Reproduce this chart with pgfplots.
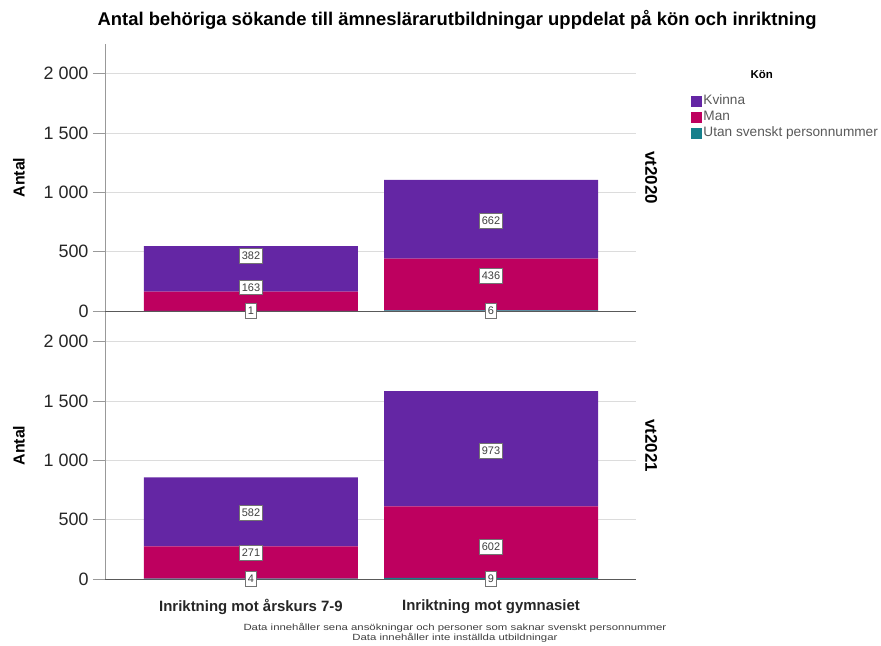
\documentclass[border=0pt]{standalone}
\usepackage{fontspec}
\setmainfont{Liberation Sans}
\usepackage{pgfplots}
\usepackage{pgfplotstable}
\pgfplotsset{compat=1.18}

\definecolor{kvinna}{RGB}{100,38,164}
\definecolor{man}{RGB}{190,0,95}
\definecolor{utan}{RGB}{22,128,140}
\definecolor{gridc}{RGB}{220,220,220}

% bars: x 0 = arskurs 7-9, 1 = gymnasiet
\pgfplotstableread{
x utan man kvinna
0 1 163 382
1 6 436 662
}\vtA
\pgfplotstableread{
x utan man kvinna
0 4 271 582
1 9 602 973
}\vtB
% label boxes, positions
\pgfplotstableread{
x y lab
0 0 1
0 200 163
0 463 382
1 0 6
1 300 436
1 760 662
}\labA
\pgfplotstableread{
x y lab
0 0 4
0 220 271
0 556 582
1 0 9
1 270 602
1 1079 973
}\labB

\pgfplotsset{
  frame/.style={
    scale only axis, width=531bp, height=267bp, anchor=south west,
    xmin=-0.608, xmax=1.604, ymin=0, ymax=2250, clip=false,
  },
  panel/.style={frame,
    ybar stacked, bar width=214bp,
    axis x line*=bottom, axis y line*=left,
    axis line style={-},
    x axis line style={draw=black!65, line width=0.8bp},
    y axis line style={draw=black!40, line width=0.8bp},
    ytick={0,500,1000,1500,2000},
    ymajorgrids, grid style={gridc, line width=0.8bp},
    tick align=outside, major tick length=12bp,
    ytick style={draw=black!40, line width=0.8bp},
    xtick style={draw=none},
    yticklabel style={font=\fontsize{18}{18}\selectfont, text=black!85, xshift=-1bp},
    /pgf/number format/1000 sep={\ },
    /pgf/number format/assume math mode=true,
    ylabel={Antal},
    ylabel style={font=\bfseries\fontsize{16}{16}\selectfont, at={(axis description cs:-0.162,0.5)}, anchor=center},
    legend image code/.code={\fill[#1] (0bp,-5.5bp) rectangle (11bp,5.5bp);},
  },
  labs/.style={only marks, mark=none,
    nodes near coords, point meta=explicit symbolic,
    every node near coord/.append style={anchor=center, fill=white, draw=black!55,
      line width=0.5bp, inner xsep=2.5bp, inner ysep=3.5bp,
      font=\fontsize{11}{11}\selectfont, text=black!75}},
}
\tikzset{strip/.style={rotate=-90, font=\bfseries\fontsize{17}{17}\selectfont}}

\begin{document}
\begin{tikzpicture}
\path[use as bounding box] (0,0) rectangle (881bp,646bp);

\begin{axis}[panel, at={(105bp,335bp)},
    xtick=\empty,
    reverse legend,
    legend style={at={(1.104,0.8125)}, anchor=north west, draw=none, fill=none,
      font=\fontsize{13.7}{13.7}\selectfont, text=black!65, inner sep=0pt, row sep=2bp,
      nodes={inner sep=1bp, text height=9bp, text depth=3bp},
      cells={anchor=west}, /tikz/every even column/.append style={column sep=0.5bp}},
  ]
\addplot[fill=utan, draw=none] table[x=x, y=utan]{\vtA};
\addlegendentry{Utan svenskt personnummer}
\addplot[fill=man, draw=none] table[x=x, y=man]{\vtA};
\addlegendentry{Man}
\addplot[fill=kvinna, draw=none] table[x=x, y=kvinna]{\vtA};
\addlegendentry{Kvinna}
\node[strip] at (rel axis cs:1.0285,0.5) {vt2020};
\node[font=\bfseries\fontsize{11.5}{11.5}\selectfont] at (rel axis cs:1.237,0.884) {Kön};
\node[font=\bfseries\fontsize{18.5}{18.5}\selectfont] at (rel axis cs:0.663,1.092)
  {Antal behöriga sökande till ämneslärarutbildningar uppdelat på kön och inriktning};
\end{axis}
\begin{axis}[frame, hide axis, at={(105bp,335bp)}]
\addplot[labs] table[x=x, y=y, meta=lab]{\labA};
\end{axis}

\begin{axis}[panel, at={(105bp,67bp)},
    xtick={0,1},
    xticklabels={Inriktning mot årskurs 7-9, Inriktning mot gymnasiet},
    xticklabel style={font=\bfseries\fontsize{15}{15}\selectfont, text=black!85, yshift=-5bp},
  ]
\addplot[fill=utan, draw=none] table[x=x, y=utan]{\vtB};
\addplot[fill=man, draw=none] table[x=x, y=man]{\vtB};
\addplot[fill=kvinna, draw=none] table[x=x, y=kvinna]{\vtB};
\node[strip] at (rel axis cs:1.0285,0.5) {vt2021};
\node[font=\fontsize{9}{10}\selectfont, text=black!75, align=center] at (rel axis cs:0.659,-0.202)
  {\scalebox{1.27}[1]{Data innehåller sena ansökningar och personer som saknar svenskt personnummer}\\
   \scalebox{1.27}[1]{Data innehåller inte inställda utbildningar}};
\end{axis}
\begin{axis}[frame, hide axis, at={(105bp,67bp)}]
\addplot[labs] table[x=x, y=y, meta=lab]{\labB};
\end{axis}
\end{tikzpicture}
\end{document}
